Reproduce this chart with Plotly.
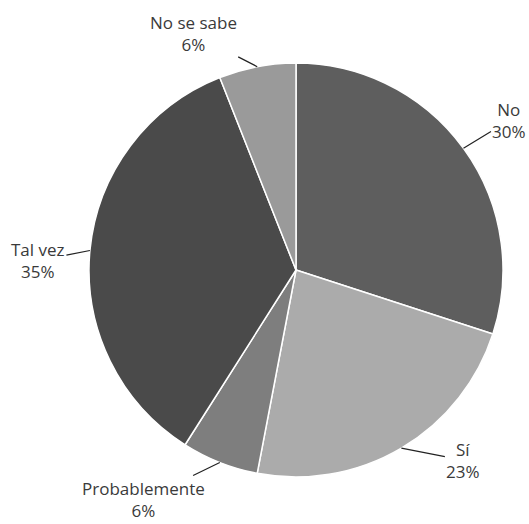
import math
import plotly.graph_objects as go

labels = ["No", "Sí", "Probablemente", "Tal vez", "No se sabe"]
values = [30, 23, 6, 35, 6]
colors = ["#5e5e5e", "#ababab", "#7e7e7e", "#4a4a4a", "#9a9a9a"]
# text offsets (pixels) of each label from its slice edge
label_dx = [46, 62, -76, -52, -64]
label_dy = [-28, 12, 37, 10, -33]

W, H = 529, 524
cx, cy, r = 296, 270, 207

fig = go.Figure(go.Pie(
    labels=labels, values=values, sort=False, direction="clockwise", rotation=0,
    marker=dict(colors=colors, line=dict(color="white", width=1.5)),
    textinfo="none", showlegend=False, hoverinfo="label+percent",
    domain=dict(x=[(cx - r) / W, (cx + r) / W], y=[(H - cy - r) / H, (H - cy + r) / H]),
))

total = sum(values)
cum = 0
for lab, v, dx, dy in zip(labels, values, label_dx, label_dy):
    mid = (cum + v / 2) / total * 2 * math.pi
    cum += v
    px = cx + r * math.sin(mid)
    py = cy - r * math.cos(mid)
    fig.add_annotation(
        x=px / W, y=1 - py / H, xref="paper", yref="paper",
        text=f"{lab}<br>{round(v / total * 100)}%",
        showarrow=True, arrowhead=0, arrowwidth=1.2, arrowcolor="#222",
        ax=dx, ay=dy, standoff=0,
        font=dict(family="Open Sans", size=17, color="#3a3a3a"),
    )

fig.update_layout(
    width=W, height=H, margin=dict(l=0, r=0, t=0, b=0),
    paper_bgcolor="white", plot_bgcolor="white",
)
fig.write_html("out.html")
